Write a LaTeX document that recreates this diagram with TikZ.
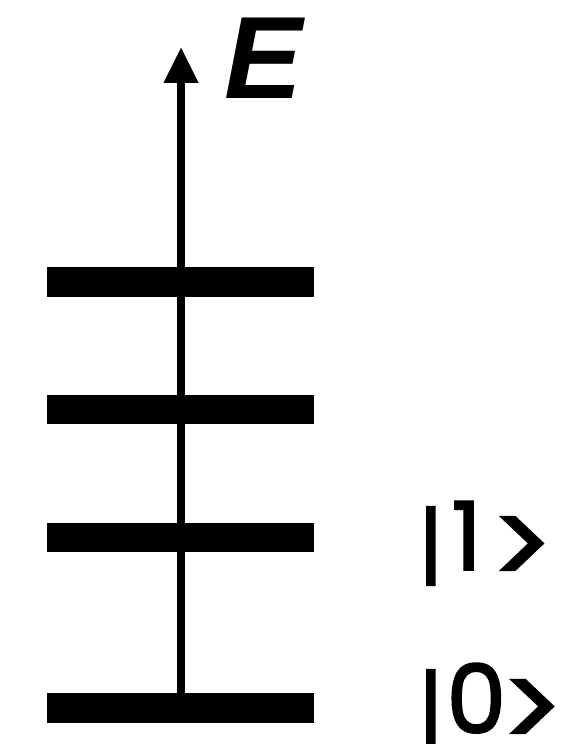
\documentclass[tikz,border=0pt]{standalone}
\usepackage{fontspec}
\setmainfont{Poppins}
\newfontfamily\efont{Liberation Sans}
\newfontfamily\ketfont{Poppins}[FakeBold=2]
\newcommand{\kbar}{{\fontsize{87}{87}\selectfont\raisebox{-6pt}{|}}}
\newcommand{\kgt}{{\fontsize{115}{115}\selectfont\raisebox{-15.5pt}{>}}}
\usetikzlibrary{arrows.meta}
\begin{document}
\begin{tikzpicture}[x=1pt,y=1pt,
  level/.style={fill=black,draw=none,inner sep=0pt,minimum width=267pt,minimum height=29.5pt},
  axis/.style={line width=7.5pt,-{Triangle[length=35pt,width=35pt,line width=0.01pt]}},
  ket/.style={inner sep=0pt,anchor=base west,font=\ketfont\fontsize{95}{95}\selectfont}]
\useasboundingbox (0,0) rectangle (576,744);
\node[level] (l0) at (180.5,36) {};
\node[level] (l1) at (180.5,206.5) {};
\node[level] (l2) at (180.5,334.5) {};
\node[level] (l3) at (180.5,462) {};
\coordinate (top) at (181,696);
\draw[axis] (181,36) -- (top);
\node[inner sep=0pt,anchor=base west,font=\efont\bfseries\itshape\fontsize{117}{117}\selectfont] (E) at (224,645) {E};
\node[ket] (k1) at (418,174) {\kbar\kern8pt1\kern9pt\kgt};
\node[ket] (k0) at (418,11) {\kbar\kern3pt0\kern-5pt\kgt};
\end{tikzpicture}
\end{document}
